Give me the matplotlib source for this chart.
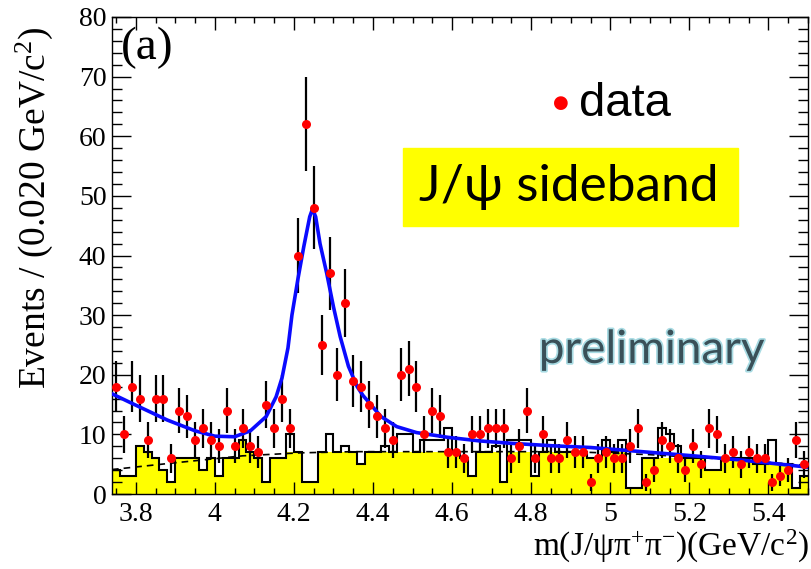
import numpy as np
import matplotlib
matplotlib.use("Agg")
import matplotlib.pyplot as plt
import matplotlib.patheffects as pe
from matplotlib.ticker import MultipleLocator, FixedLocator

plt.rcParams["mathtext.fontset"] = "custom"
plt.rcParams["mathtext.rm"] = "Liberation Serif"
plt.rcParams["mathtext.it"] = "Liberation Serif:italic"

# ---- data ----
bin_lo = 3.74
bin_w = 0.02
data_counts = [18, 10, 18, 16, 9, 16, 16, 6, 14, 13,
               9, 11, 9, 8, 14, 8, 11, 8, 7, 15,
               11, 16, 11, 40, 62, 48, 25, 37, 20, 32,
               19, 18, 15, 13, 11, 9, 20, 21, 18, 10,
               14, 13, 7, 7, 6, 10, 10, 11, 11, 11,
               6, 8, 14, 6, 10, 6, 6, 9, 7, 7,
               2, 6, 7, 6, 6, 8, 11, 2, 4, 9,
               8, 6, 4, 8, 5, 11, 10, 6, 7, 5,
               7, 6, 6, 2, 3, 4, 9, 5]
yellow_hist = [4, 3, 3, 8, 7, 6, 4, 2, 6, 6,
               6, 4, 6, 3, 6, 6, 9, 7, 6, 2,
               6, 6, 7, 7, 2, 2, 7, 7, 7, 7,
               7, 5, 7, 7, 7, 7, 7, 7, 7, 7,
               7, 7, 7, 7, 6, 3, 7, 7, 7, 2,
               7, 7, 7, 3, 7, 7, 7, 7, 7, 7,
               6, 6, 7, 7, 7, 1, 1, 6, 6, 6,
               6, 6, 6, 6, 6, 4, 4, 6, 6, 6,
               6, 5, 5, 5, 5, 5, 1, 3]
black_hist = [4, 3, 3, 8, 7, 6, 4, 2, 6, 6,
              6, 4, 6, 3, 6, 6, 9, 7, 6, 2,
              6, 6, 10, 7, 2, 2, 7, 10, 7, 8,
              7, 5, 7, 7, 8, 7, 10, 10, 7, 9,
              9, 9, 11, 7, 6, 3, 7, 7, 8, 2,
              9, 9, 9, 3, 7, 9, 7, 7, 7, 7,
              6, 6, 9, 7, 9, 1, 1, 6, 6, 11,
              10, 8, 6, 6, 6, 4, 4, 6, 6, 6,
              6, 5, 5, 9, 5, 5, 1, 3]
fit_x = [3.74, 3.80, 3.88, 3.95, 4.00, 4.05, 4.09, 4.13, 4.155, 4.17, 4.185,
         4.195, 4.21, 4.225, 4.24, 4.247, 4.255, 4.266, 4.283, 4.30, 4.317,
         4.338, 4.36, 4.375, 4.42, 4.46, 4.51, 4.59, 4.67, 4.75, 4.85, 4.95,
         5.08, 5.21, 5.33, 5.50]
fit_y = [16.8, 14.9, 12.4, 10.6, 9.7, 9.6, 10.6, 13.0, 16.3, 19.5, 24.5,
         30.0, 36.0, 41.5, 46.5, 47.8, 46.5, 42.0, 37.0, 31.4, 26.4,
         21.4, 18.0, 16.5, 13.0, 11.3, 10.3, 9.5, 8.9, 8.5, 8.1, 7.8,
         7.1, 6.4, 5.7, 4.5]
bkg_x = [3.74, 3.88, 4.07, 4.215, 4.35, 4.9, 5.1, 5.3, 5.5]
bkg_y = [4.1, 5.1, 6.4, 6.9, 7.1, 7.1, 6.6, 5.8, 4.8]
x_ticks = [3.8, 4.0, 4.2, 4.4, 4.6, 4.8, 5.0, 5.2, 5.4]
x_ticklabels = ["3.8", "4", "4.2", "4.4", "4.6", "4.8", "5", "5.2", "5.4"]
y_ticks = [0, 10, 20, 30, 40, 50, 60, 70, 80]

serif = ["Liberation Serif", "DejaVu Serif"]

fig = plt.figure(figsize=(8.11, 5.69), dpi=100)
ax = fig.add_axes([112 / 811, 1 - 494 / 569, 696 / 811, 477 / 569])

n = len(yellow_hist)
edges = bin_lo + bin_w * np.arange(n + 1)
ax.stairs(yellow_hist, edges, fill=True, color="#ffff00", baseline=0, zorder=1)
ax.stairs(black_hist, edges, color="black", lw=1.5, baseline=None, zorder=2)
ax.plot(bkg_x, bkg_y, color="black", ls=(0, (4, 3)), lw=1.2, zorder=3)

centers = bin_lo + bin_w * (np.arange(len(data_counts)) + 0.5)
dc = np.array(data_counts, dtype=float)
ax.errorbar(centers, dc, yerr=np.sqrt(dc), fmt="none", ecolor="black",
            elinewidth=1.6, capsize=0, zorder=4)
ax.plot(fit_x, fit_y, color="#0a0aff", lw=2.6, zorder=5)
ax.plot(centers, dc, "o", color="#ff0000", ms=6.5, mec="none", zorder=6)

ax.set_xlim(3.74, 5.50)
ax.set_ylim(0, 80)
ax.xaxis.set_major_locator(FixedLocator(x_ticks))
ax.set_xticklabels(x_ticklabels)
ax.xaxis.set_minor_locator(MultipleLocator(0.05))
ax.yaxis.set_major_locator(FixedLocator(y_ticks))
ax.yaxis.set_minor_locator(MultipleLocator(2))
ax.tick_params(which="both", direction="in", top=True, right=True,
               labelsize=20, width=1.0, color="black")
ax.tick_params(axis="x", which="major", length=9, pad=6)
ax.tick_params(axis="x", which="minor", length=4.5)
ax.tick_params(axis="y", which="major", length=14, pad=4)
ax.tick_params(axis="y", which="minor", length=7)
for lab in ax.get_xticklabels() + ax.get_yticklabels():
    lab.set_family(serif)
for s in ax.spines.values():
    s.set_linewidth(1.0)

fig.text(34 / 811, 1 - 208 / 569, "Events / (0.020 GeV/c$^{2}$)",
         fontsize=27, family=serif, rotation=90, ha="center", va="center")
fig.text(809 / 811, 1 - 546 / 569, "m(J/\u03c8\u03c0$^{+}$\u03c0$^{-}$)(GeV/c$^{2}$)",
         fontsize=24, family=serif, ha="right", va="center")

ax.text(0.013, 0.935, "(a)", transform=ax.transAxes, fontsize=34,
        family=serif, va="center", ha="left")

# legend "data"
fig.text(561 / 811, 1 - 103 / 569, "\u25CF", color="#ff0000", fontsize=13,
         ha="center", va="center", family="DejaVu Sans")
fig.text(579 / 811, 1 - 104 / 569, "data", fontsize=34,
         family="Liberation Sans", ha="left", va="center")

# yellow label box
fig.patches.append(plt.Rectangle((403 / 811, 1 - 226 / 569), 335 / 811,
                                 78 / 569, transform=fig.transFigure,
                                 color="#ffff00", zorder=10))
fig.text(569 / 811, 1 - 187 / 569, "J/\u03c8 sideband", fontsize=37,
         family=["Lato", "DejaVu Sans"], ha="center", va="center",
         zorder=11)

fig.text(652 / 811, 1 - 350 / 569, "preliminary", fontsize=33,
         family=["Lato", "DejaVu Sans"], ha="center", va="center",
         color="#3a5058", zorder=11,
         path_effects=[pe.withStroke(linewidth=2.5, foreground="#a8dbe3")])

fig.savefig("out.png", dpi=100)
